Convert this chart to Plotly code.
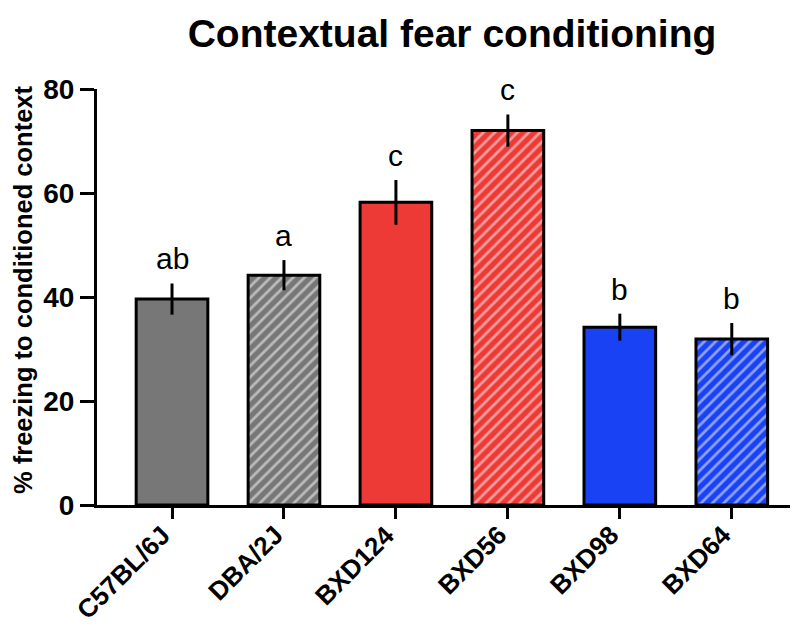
import plotly.graph_objects as go

strains = ["C57BL/6J", "DBA/2J", "BXD124", "BXD56", "BXD98", "BXD64"]
freezing = [39.6, 44.2, 58.2, 72.0, 34.2, 31.9]
sem = [3.0, 2.9, 4.3, 3.1, 2.6, 3.1]
letters = ["ab", "a", "c", "c", "b", "b"]
bar_colors = ["#777777", "#777777", "#EE3A36", "#EE3A36", "#1A42F5", "#1A42F5"]
hatch = ["", "/", "", "/", "", "/"]

FONT = "Liberation Sans, Arial, Helvetica, sans-serif"

fig = go.Figure()
fig.add_trace(go.Bar(
    x=strains,
    y=freezing,
    width=0.64,
    marker=dict(
        color=bar_colors,
        line=dict(color="black", width=3),
        pattern=dict(
            shape=hatch,
            bgcolor=bar_colors,
            fgcolor="white",
            size=8,
            solidity=0.35,
        ),
    ),
    error_y=dict(type="data", array=sem, thickness=3, width=0, color="black", visible=True),
    showlegend=False,
))

for s, v, e, t in zip(strains, freezing, sem, letters):
    fig.add_annotation(
        x=s, y=v + e, text=t, showarrow=False,
        yanchor="bottom", yshift=6,
        font=dict(family=FONT, size=30, color="black"),
    )

# rotated category labels
for s in strains:
    fig.add_annotation(
        x=s, y=0, xref="x", yref="y", text=s, showarrow=False,
        textangle=-45, xanchor="right", yanchor="top",
        xshift=6, yshift=-13, borderpad=0,
        font=dict(family=FONT, size=26, color="black", weight="bold"),
    )

fig.add_annotation(
    xref="paper", yref="paper", x=0, y=0.5, xshift=-74, yshift=7,
    text="% freezing to conditioned context", textangle=-90, showarrow=False,
    xanchor="center", yanchor="middle",
    font=dict(family=FONT, size=25.5, color="black", weight="bold"),
)

fig.update_layout(
    width=795, height=628,
    margin=dict(l=97, r=5, t=89, b=123, autoexpand=False),
    paper_bgcolor="white", plot_bgcolor="white",
    title=dict(
        text="Contextual fear conditioning",
        x=452 / 795, xref="container", xanchor="center",
        y=1 - 33 / 628, yref="container", yanchor="middle",
        font=dict(family=FONT, size=39, color="black", weight="bold"),
    ),
    bargap=0.36,
)

fig.update_xaxes(
    range=[-0.67, 5.52], automargin=False,
    showline=True, linecolor="black", linewidth=3,
    ticks="outside", ticklen=11, tickwidth=3, tickcolor="black",
    showticklabels=False,
    showgrid=False, zeroline=False,
)
fig.update_yaxes(
    range=[0, 80], automargin=False,
    tickvals=[0, 20, 40, 60, 80],
    showline=True, linecolor="black", linewidth=3,
    ticks="outside", ticklen=14, tickwidth=3, tickcolor="black",
    tickfont=dict(family=FONT, size=28, color="black", weight="bold"),
    showgrid=False, zeroline=False,
)

fig.write_html("out.html")
